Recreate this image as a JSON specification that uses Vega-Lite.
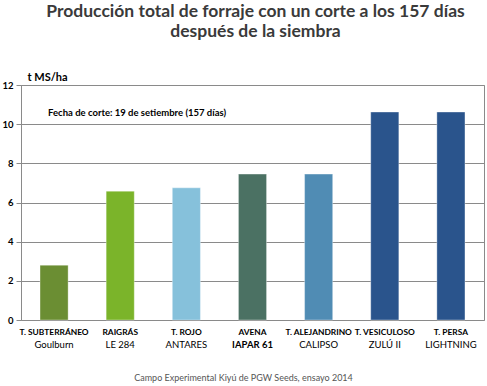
{
  "$schema": "https://vega.github.io/schema/vega-lite/v6.json",
  "width": 463,
  "height": 235,
  "autosize": {"type": "none"},
  "padding": {"left": 21, "top": 85, "right": 3, "bottom": 66},
  "background": "white",
  "title": {
    "text": ["Producción total de forraje con un corte a los 157 días", "después de la siembra"],
    "font": "Lato",
    "fontSize": 17.5,
    "fontWeight": "bold",
    "color": "#3a3a3a",
    "anchor": "middle",
    "offset": 31,
    "lineHeight": 19.5,
    "dx": 3
  },
  "config": {"view": {"stroke": "#8a8a8a"}, "font": "Lato"},
  "layer": [
    {
      "data": {
        "values": [
          {"cultivo": "T. SUBTERRÁNEO|Goulburn", "t": 2.8},
          {"cultivo": "RAIGRÁS|LE 284", "t": 6.58},
          {"cultivo": "T. ROJO|ANTARES", "t": 6.75},
          {"cultivo": "AVENA|IAPAR 61", "t": 7.45},
          {"cultivo": "T. ALEJANDRINO|CALIPSO", "t": 7.45},
          {"cultivo": "T. VESICULOSO|ZULÚ II", "t": 10.62},
          {"cultivo": "T. PERSA|LIGHTNING", "t": 10.62}
        ]
      },
      "mark": {"type": "bar", "stroke": "#ffffff", "strokeOpacity": 0.35, "strokeWidth": 1},
      "encoding": {
        "x": {
          "field": "cultivo",
          "type": "nominal",
          "sort": null,
          "scale": {"paddingInner": 0.575, "paddingOuter": 0.2875},
          "axis": {
            "title": null,
            "labelAngle": 0,
            "ticks": false,
            "domain": false,
            "grid": false,
            "labelOverlap": false,
            "labelExpr": "split(datum.value, '|')[0]",
            "labelFont": "Lato",
            "labelFontSize": 8.4,
            "labelFontWeight": "bold",
            "labelColor": "#000000",
            "labelPadding": 7
          }
        },
        "y": {
          "field": "t",
          "type": "quantitative",
          "scale": {"domain": [0, 12], "nice": false},
          "axis": {
            "values": [0, 2, 4, 6, 8, 10, 12],
            "labelOverlap": false,
            "title": "t MS/ha",
            "titleAngle": 0,
            "titleX": 6,
            "titleY": -5,
            "titleAlign": "left",
            "titleBaseline": "alphabetic",
            "titleFont": "Lato",
            "titleFontSize": 11,
            "titleFontWeight": "bold",
            "titleColor": "#000000",
            "labelFont": "Lato",
            "labelFontWeight": "bold",
            "labelFontSize": 9.5,
            "labelColor": "#000000",
            "labelPadding": 3,
            "tickSize": 5,
            "tickColor": "#8a8a8a",
            "domainColor": "#8a8a8a",
            "grid": true,
            "gridColor": "#8a8a8a"
          }
        },
        "color": {
          "field": "cultivo",
          "type": "nominal",
          "sort": null,
          "scale": {"range": ["#6b8e33", "#7bb42a", "#86c1db", "#4b7163", "#508cb4", "#2a548c", "#2a548c"]},
          "legend": null
        }
      }
    },
    {
      "data": {
        "values": [
          {"cultivo": "T. SUBTERRÁNEO|Goulburn", "t": 10.4, "nota": "Fecha de corte: 19 de setiembre (157 días)"}
        ]
      },
      "mark": {"type": "text", "align": "left", "baseline": "alphabetic", "dx": -6, "font": "Lato", "fontSize": 9.5, "fontWeight": "bold", "color": "#000000"},
      "encoding": {
        "x": {
          "field": "cultivo",
          "type": "nominal",
          "sort": null,
          "axis": {
            "orient": "bottom",
            "offset": 12,
            "title": "Campo Experimental Kiyú de PGW Seeds, ensayo 2014",
            "titleFont": "Lato",
            "titleFontSize": 9,
            "titleFontWeight": "normal",
            "titleColor": "#555555",
            "titleX": 222,
            "titleY": 48,
            "titleBaseline": "alphabetic",
            "labelAngle": 0,
            "ticks": false,
            "domain": false,
            "grid": false,
            "labelOverlap": false,
            "labelExpr": "split(datum.value, '|')[1]",
            "labelFont": "Lato",
            "labelFontSize": 9.5,
            "labelFontWeight": {"condition": {"test": "datum.value == 'AVENA|IAPAR 61'", "value": "bold"}, "value": "normal"},
            "labelColor": "#000000",
            "labelPadding": 7
          }
        },
        "y": {
          "field": "t",
          "type": "quantitative",
          "axis": {"values": [0, 2, 4, 6, 8, 10, 12], "labelOverlap": false}
        },
        "text": {"field": "nota"}
      }
    }
  ],
  "resolve": {"axis": {"x": "independent"}}
}
